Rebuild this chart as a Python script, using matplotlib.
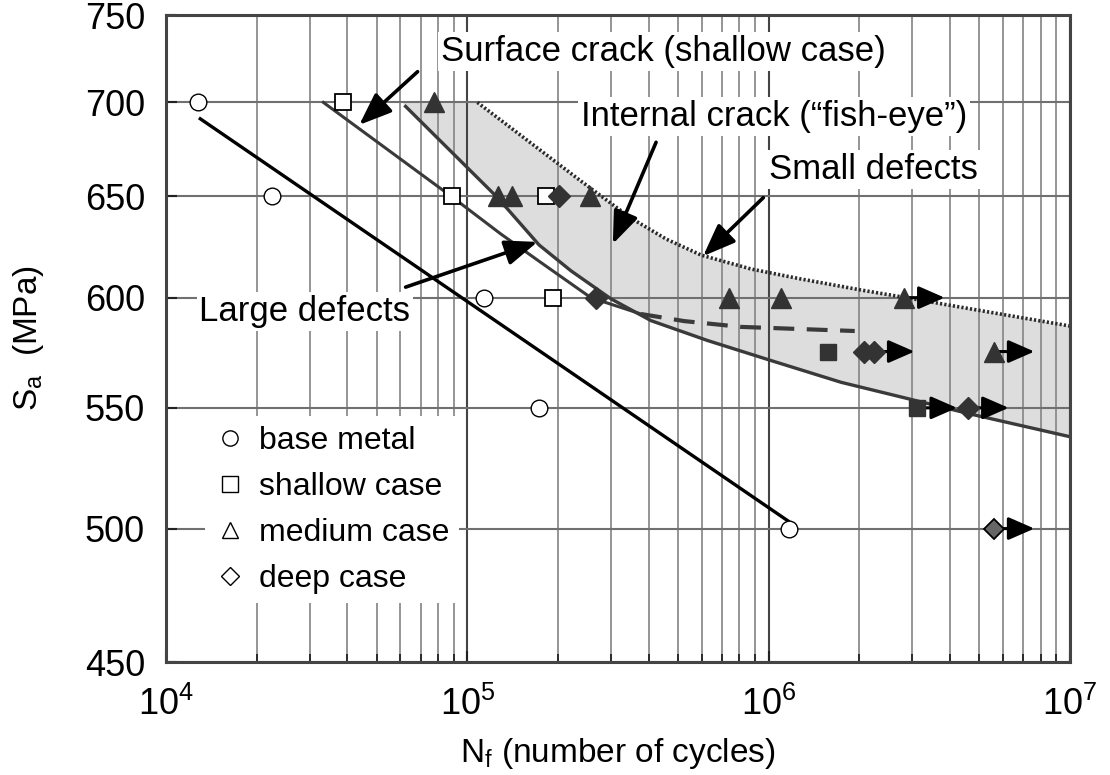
import math
import matplotlib.pyplot as plt
from matplotlib.ticker import FixedLocator, NullLocator, LogLocator, NullFormatter, FuncFormatter
from matplotlib.lines import Line2D

plt.rcParams['font.family'] = ['Liberation Sans', 'DejaVu Sans']
plt.rcParams['mathtext.fontset'] = 'custom'
plt.rcParams['mathtext.rm'] = 'Liberation Sans'
plt.rcParams['mathtext.it'] = 'Liberation Sans:italic'
plt.rcParams['mathtext.default'] = 'regular'

# ---- test points (N cycles, stress amplitude MPa) ----
base_N = [1.28e4, 2.25e4, 1.14e5, 1.73e5, 1.17e6]
base_S = [700, 650, 600, 550, 500]

shallow_open_N = [3.86e4, 8.93e4, 1.82e5, 1.92e5]
shallow_open_S = [700, 650, 650, 600]
shallow_fill_N = [1.57e6, 3.1e6]
shallow_fill_S = [575, 550]
shallow_runout = [False, True]

medium_N = [7.73e4, 1.26e5, 1.41e5, 2.55e5, 7.4e5, 1.1e6, 2.82e6, 5.6e6]
medium_S = [700, 650, 650, 650, 600, 600, 600, 575]
medium_runout = [False, False, False, False, False, False, True, True]

deep_N = [2.01e5, 2.67e5, 2.07e6, 2.24e6, 4.6e6]
deep_S = [650, 600, 575, 575, 550]
deep_runout = [False, False, False, True, True]
deep_gray_N = [5.6e6]
deep_gray_S = [500]

# ---- fitted curves ----
base_line_N = [1.3e4, 1.16e6]
base_line_S = [691, 503]

surface_N = [3.33e4, 8.93e4, 1.29e5, 1.75e5, 2.57e5, 3.77e5]
surface_S = [700, 649.5, 631, 617, 600, 592.3]

dashed_N = [3.77e5, 5.24e5, 8.1e5, 1.93e6]
dashed_S = [592.3, 589.0, 586.3, 584.4]

large_N = [6.24e4, 1.26e5, 1.73e5, 2.21e5, 3.0e5, 4.07e5, 6.28e5, 1.02e6,
           1.74e6, 2.9e6, 4.61e6, 1.0e7]
large_S = [697.8, 649.3, 625.5, 612.8, 599.4, 589.2, 580.0, 570.9,
           561.2, 554.0, 547.5, 537.6]

small_N = [1.08e5, 2.38e5, 3.49e5, 4.57e5, 5.97e5, 8.75e5, 1.28e6, 2.03e6, 2.91e6, 4.72e6, 1.0e7]
small_S = [700, 657.9, 638.9, 628.4, 620.5, 613.7, 608.9, 603.6, 599.8, 594.6, 586.7]

band_left_N = 6.1e4

y_ticks = [450, 500, 550, 600, 650, 700, 750]

fill_col = '#333333'
curve_col = '#3a3a3a'
runout_factor = 1.36

fig = plt.figure(figsize=(11.1, 7.75), dpi=100)
ax = fig.add_axes([0.1495, 0.1458, 0.8145, 0.8348])
ax.set_xscale('log')
ax.set_yscale('log')
ax.set_xlim(1e4, 1e7)
ax.set_ylim(450, 750)

# shaded band between large-defect and small-defect curves
band_x = [band_left_N] + small_N + large_N[::-1]
band_y = [700] + small_S + large_S[::-1]
ax.fill(band_x, band_y, color='#dddddd', lw=0, zorder=0.2)

ax.plot(base_line_N, base_line_S, color='black', lw=2.4, zorder=2)
ax.plot(surface_N, surface_S, color=curve_col, lw=2.2, zorder=2)
ax.plot(large_N, large_S, color=curve_col, lw=2.4, zorder=2)
ax.plot(dashed_N, dashed_S, color=curve_col, lw=3.0, ls=(0, (5, 3)), zorder=2)
ax.plot(small_N, small_S, color='#2a2a2a', lw=2.6, ls=(0, (0.6, 0.6)), zorder=2)


def runout_arrows(xs, ys, flags):
    for x, y, f in zip(xs, ys, flags):
        if f:
            ax.annotate('', xy=(x * runout_factor, y), xytext=(x, y),
                        arrowprops=dict(arrowstyle='-|>,head_length=0.8,head_width=0.35',
                                        lw=2.2, color='black', shrinkA=0, shrinkB=0,
                                        mutation_scale=20),
                        zorder=3)


runout_arrows(shallow_fill_N, shallow_fill_S, shallow_runout)
runout_arrows(medium_N, medium_S, medium_runout)
runout_arrows(deep_N, deep_S, deep_runout)
runout_arrows(deep_gray_N, deep_gray_S, [True])

ax.plot(base_N, base_S, 'o', ms=12, mfc='white', mec='black', mew=1.0, zorder=4)
ax.plot(shallow_open_N, shallow_open_S, 's', ms=11, mfc='white', mec='black', mew=1.3, zorder=4)
ax.plot(shallow_fill_N, shallow_fill_S, 's', ms=11, mfc=fill_col, mec=fill_col, zorder=4)
ax.plot(medium_N, medium_S, '^', ms=14, mfc=fill_col, mec=fill_col, zorder=4)
ax.plot(deep_N, deep_S, 'D', ms=11, mfc=fill_col, mec=fill_col, zorder=4)
ax.plot(deep_gray_N, deep_gray_S, 'D', ms=10, mfc='#666666', mec='black', mew=1.3, zorder=4)

# axes, ticks and grid
ax.yaxis.set_major_locator(FixedLocator(y_ticks))
ax.yaxis.set_minor_locator(NullLocator())
ax.yaxis.set_major_formatter(FuncFormatter(lambda v, p: f'{v:.0f}'))
ax.xaxis.set_major_locator(LogLocator(base=10))
ax.xaxis.set_minor_locator(LogLocator(base=10, subs=range(2, 10)))
ax.xaxis.set_minor_formatter(NullFormatter())
ax.xaxis.set_major_formatter(FuncFormatter(lambda v, p: r'$10^{%d}$' % round(math.log10(v))))

ax.set_axisbelow(True)
ax.grid(which='major', axis='x', color='#444444', lw=1.5)
ax.grid(which='minor', axis='x', color='#8c8c8c', lw=1.3)
ax.grid(which='major', axis='y', color='#707070', lw=1.5)

ax.tick_params(which='both', direction='in', color='#222222')
ax.tick_params(which='major', length=8, width=1.5)
ax.tick_params(which='minor', length=6, width=1.3)
ax.tick_params(axis='x', labelsize=26, pad=18)
ax.tick_params(axis='y', labelsize=26, pad=15)
for s in ax.spines.values():
    s.set_color('#444444')
    s.set_linewidth(2.2)

ax.set_xlabel(r'N$_f$ (number of cycles)', fontsize=24, labelpad=9)
ax.set_ylabel(r'S$_a$  (MPa)', fontsize=24, labelpad=28)

# labels with arrows
box = dict(fc='white', ec='none', pad=2)
arrow_kw = dict(arrowstyle='-|>,head_length=0.9,head_width=0.35', lw=2.6,
                color='black', shrinkA=0, shrinkB=0, mutation_scale=22)
labels = [
    ('Surface crack (shallow case)', (4.47e5, 728.7), (6.84e4, 717.2), (4.38e4, 687.7)),
    ('Internal crack (\u201cfish-eye\u201d)', (1.04e6, 692.4), (4.23e5, 678.3), (3.04e5, 626.0)),
    ('Small defects', (2.23e6, 664.0), (9.6e5, 649.3), (6.06e5, 620.0)),
    ('Large defects', (2.89e4, 593.6), (6.24e4, 605.0), (1.71e5, 627.0)),
]
for txt, pos, tail, head in labels:
    ax.text(pos[0], pos[1], txt, fontsize=25, ha='center', va='center', bbox=box, zorder=5)
    ax.annotate('', xy=head, xytext=tail, arrowprops=arrow_kw, zorder=6)

handles = [
    Line2D([], [], marker='o', ls='none', ms=11, mfc='white', mec='black', mew=1.0),
    Line2D([], [], marker='s', ls='none', ms=11, mfc='white', mec='black', mew=1.0),
    Line2D([], [], marker='^', ls='none', ms=12, mfc='white', mec='black', mew=1.0),
    Line2D([], [], marker='D', ls='none', ms=9, mfc='white', mec='black', mew=1.0),
]
leg = ax.legend(handles, ['base metal', 'shallow case', 'medium case', 'deep case'],
                loc='lower left', bbox_to_anchor=(0.025, 0.066), fontsize=23,
                frameon=True, fancybox=False, edgecolor='none', framealpha=1,
                handlelength=1.0, handletextpad=0.4, labelspacing=0.5,
                borderpad=0.3)
leg.set_zorder(7)

fig.savefig('out.png', dpi=100)
